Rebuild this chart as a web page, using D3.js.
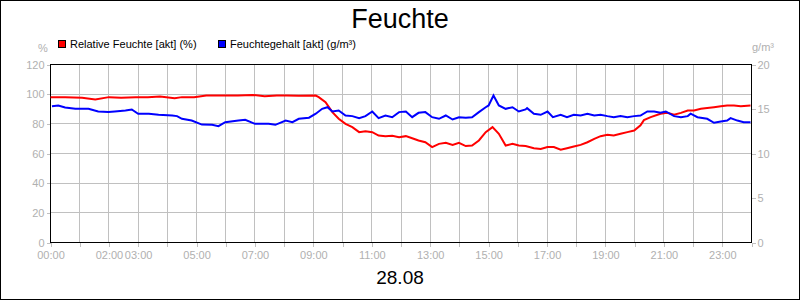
<!DOCTYPE html>
<html>
<head>
<meta charset="utf-8">
<script src="https://cdn.jsdelivr.net/npm/d3@7"></script>
<style>
  body { margin: 0; background: #fff; }
  text { font-family: "Liberation Sans", Arial, sans-serif; }
</style>
</head>
<body>
<script>
// chart data
const xTickLabels = ["00:00", "02:00", "03:00", "05:00", "07:00", "09:00", "11:00",
                     "13:00", "15:00", "17:00", "19:00", "21:00", "23:00"];
const leftTicks = [0, 20, 40, 60, 80, 100, 120];
const rightTicks = [0, 5, 10, 15, 20];

// Relative Feuchte [akt] (%)
const rhTimes = ["00:00","00:30","01:05","01:32","02:00","02:25","02:55","03:20","03:45","04:15",
  "04:30","04:55","05:20","06:00","06:25","06:55","07:20","07:45","08:05","08:30","09:05","09:11",
  "09:25","09:39","09:52","10:06","10:20","10:34","10:47","11:01","11:14","11:28","11:42","11:56",
  "12:10","12:23","12:36","12:50","13:04","13:18","13:32","13:46","13:59","14:13","14:26","14:40",
  "14:54","15:08","15:21","15:35","15:49","16:02","16:16","16:33","16:47","17:01","17:14","17:28",
  "17:41","17:55","18:09","18:23","18:37","18:50","19:04","19:17","19:31","19:45","19:59","20:12",
  "20:19","20:33","20:53","21:07","21:21","21:35","21:49","22:02","22:16","22:29","22:43","22:57",
  "23:10","23:24","23:38","23:58"];
const rhValues = [98,98,97.6,96.4,98,97.6,98,98,98.4,97.3,
  98,98,99.1,99.1,99.1,99.5,98.6,99.1,99.1,99,99.1,98,
  94.6,87.9,83.4,80,77.8,74.4,75,74.4,72.1,71.7,72,71,
  71.7,70.3,68.8,67.6,64.3,66.5,67.2,65.8,67.2,65,65.4,68.8,
  74.4,77.8,73.3,65.4,66.5,65.4,65,63.6,63.1,64.3,64.3,62.5,
  63.6,64.7,65.8,67.6,69.9,71.7,72.6,72.1,73.3,74.4,75.5,79,
  82.5,84.5,86.8,87.4,86.1,87.4,89,89,90.1,90.6,91.2,91.9,
  92.4,92.4,91.9,92.4];

// Feuchtegehalt [akt] (g/m³)
const ahTimes = ["00:03","00:16","00:30","00:51","01:18","01:38","01:59","02:12","02:34","02:47",
  "03:00","03:22","03:42","04:10","04:20","04:30","04:50","05:11","05:32","05:45","05:59","06:26",
  "06:40","07:00","07:28","07:42","08:03","08:17","08:30","08:51","09:05","09:18","09:29","09:39",
  "09:52","10:06","10:20","10:34","10:47","11:01","11:14","11:28","11:42","11:56","12:10","12:23",
  "12:36","12:50","13:04","13:18","13:32","13:46","13:59","14:13","14:26","14:40","14:54","15:00",
  "15:10","15:21","15:35","15:49","16:02","16:16","16:19","16:33","16:47","17:01","17:12","17:28",
  "17:41","17:55","18:09","18:23","18:37","18:50","19:04","19:17","19:31","19:45","19:59","20:12",
  "20:26","20:40","20:53","21:04","21:21","21:35","21:49","21:55","22:09","22:29","22:43","22:57",
  "23:10","23:17","23:31","23:44","23:58"];
const ahValues = [15.32,15.4,15.17,15.02,15.02,14.72,14.65,14.72,14.83,14.95,
  14.47,14.47,14.35,14.27,14.2,13.9,13.7,13.25,13.22,13.07,13.52,13.7,
  13.78,13.33,13.33,13.22,13.7,13.52,13.9,14.02,14.47,15.02,15.2,14.72,
  14.83,14.27,14.2,13.97,14.2,14.72,13.97,14.27,14.08,14.65,14.72,14.08,
  14.57,14.65,14.08,13.9,14.27,13.82,14.08,14.02,14.08,14.65,15.2,15.4,
  16.52,15.4,15.02,15.2,14.72,14.95,15.1,14.47,14.35,14.72,14.08,14.35,
  14.08,14.35,14.27,14.47,14.27,14.35,14.2,14.08,14.2,14.08,14.2,14.27,
  14.72,14.72,14.57,14.72,14.2,14.08,14.2,14.47,14.08,13.9,13.45,13.6,
  13.7,13.97,13.7,13.52,13.52];

const width = 800, height = 300;
const plotL = 50.5, plotR = 751.5, plotT = 64.5, plotB = 242.5;
const gridColor = "#c0c0c0", labelColor = "#b0b0b0";

function toHours(s) {
  let p = s.split(":");
  return +p[0] + (+p[1]) / 60;
}

let svg = d3.select("body").append("svg")
  .attr("width", width)
  .attr("height", height);

// outer frame
svg.append("rect")
  .attr("x", 0.5).attr("y", 0.5)
  .attr("width", width - 1).attr("height", height - 1)
  .attr("fill", "#fff").attr("stroke", "#000");

let x = d3.scaleLinear().domain([0, 24]).range([plotL, plotR]);
let yL = d3.scaleLinear().domain([0, 120]).range([plotB, plotT]);
let yR = d3.scaleLinear().domain([0, 20]).range([plotB, plotT]);

// grid
let grid = svg.append("g").attr("shape-rendering", "crispEdges");
grid.selectAll(".vg")
  .data(d3.range(1, 24))
  .join("line")
    .attr("class", "vg")
    .attr("x1", d => x(d)).attr("x2", d => x(d))
    .attr("y1", plotT).attr("y2", plotB)
    .attr("stroke", gridColor);
grid.selectAll(".hg")
  .data(leftTicks.slice(1, -1))
  .join("line")
    .attr("class", "hg")
    .attr("x1", plotL).attr("x2", plotR)
    .attr("y1", d => yL(d)).attr("y2", d => yL(d))
    .attr("stroke", gridColor);

// axes
function styleAxis(g) {
  g.select(".domain").remove();
  g.selectAll(".tick line").attr("stroke", gridColor).attr("shape-rendering", "crispEdges");
  g.selectAll(".tick text").attr("fill", labelColor)
    .style("font-family", '"Liberation Sans", Arial, sans-serif')
    .style("font-size", "11px");
}

svg.append("g")
  .attr("transform", `translate(0,${plotB})`)
  .call(d3.axisBottom(x)
    .tickValues(d3.range(0, 25))
    .tickSize(4)
    .tickPadding(5)
    .tickFormat(d => {
      let s = String(d).padStart(2, "0") + ":00";
      return xTickLabels.includes(s) ? s : "";
    }))
  .call(styleAxis);

svg.append("g")
  .attr("transform", `translate(${plotL},0)`)
  .call(d3.axisLeft(yL).tickValues(leftTicks).tickSize(4).tickPadding(2))
  .call(styleAxis);

svg.append("g")
  .attr("transform", `translate(${plotR},0)`)
  .call(d3.axisRight(yR).tickValues(rightTicks).tickSize(4).tickPadding(2))
  .call(styleAxis);

// plot frame
svg.append("rect")
  .attr("x", plotL).attr("y", plotT)
  .attr("width", plotR - plotL).attr("height", plotB - plotT)
  .attr("fill", "none").attr("stroke", "#000")
  .attr("shape-rendering", "crispEdges");

// lines
let rh = rhTimes.map((t, i) => [toHours(t), rhValues[i]]);
let ah = ahTimes.map((t, i) => [toHours(t), ahValues[i]]);

svg.append("path")
  .datum(rh)
  .attr("fill", "none")
  .attr("stroke", "#ff0000")
  .attr("stroke-width", 2)
  .attr("d", d3.line().x(d => x(d[0])).y(d => yL(d[1])));

svg.append("path")
  .datum(ah)
  .attr("fill", "none")
  .attr("stroke", "#0000ff")
  .attr("stroke-width", 2)
  .attr("d", d3.line().x(d => x(d[0])).y(d => yR(d[1])));

// title and captions
svg.append("text")
  .attr("x", 400).attr("y", 28)
  .attr("text-anchor", "middle")
  .style("font-size", "27px")
  .text("Feuchte");

svg.append("text")
  .attr("x", 400).attr("y", 284)
  .attr("text-anchor", "middle")
  .style("font-size", "19px")
  .text("28.08");

svg.append("text")
  .attr("x", 43).attr("y", 52)
  .attr("text-anchor", "middle")
  .attr("fill", labelColor)
  .style("font-size", "11px")
  .text("%");

svg.append("text")
  .attr("x", 752).attr("y", 51)
  .attr("fill", labelColor)
  .style("font-size", "11px")
  .text("g/m³");

// legend
let legend = [
  { name: "Relative Feuchte [akt] (%)", color: "#ff0000", x: 58 },
  { name: "Feuchtegehalt [akt] (g/m³)", color: "#0000ff", x: 218 }
];
let lg = svg.selectAll(".legend")
  .data(legend)
  .join("g")
    .attr("class", "legend")
    .attr("transform", d => `translate(${d.x},0)`);
lg.append("rect")
  .attr("x", 0.5).attr("y", 40.5)
  .attr("width", 7).attr("height", 7)
  .attr("fill", d => d.color)
  .attr("stroke", "#000")
  .attr("shape-rendering", "crispEdges");
lg.append("text")
  .attr("x", 12).attr("y", 48)
  .style("font-size", "11px")
  .text(d => d.name);
</script>
</body>
</html>
